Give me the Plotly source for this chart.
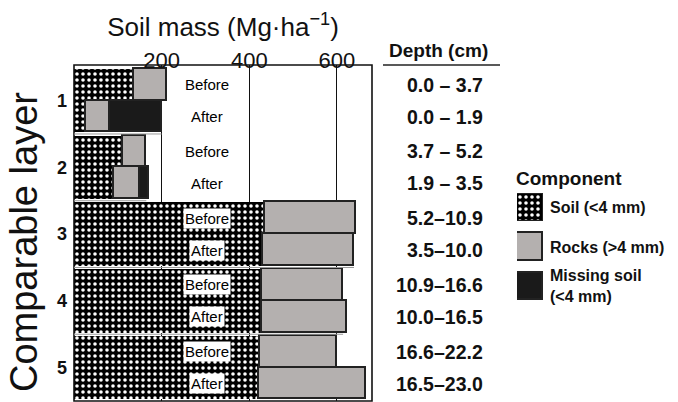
import plotly.graph_objects as go

# ---------------- data ----------------
layers = ["1", "2", "3", "4", "5"]
periods = ["Before", "After"]
# soil mass components (Mg/ha) per layer: [Before, After]
soil = [[138, 28], [111, 92], [435, 431], [429, 428], [424, 422]]
rocks = [[74, 55], [54, 58], [209, 208], [185, 195], [176, 244]]
missing = [[0, 117], [0, 21], [0, 0], [0, 0], [0, 0]]
depths = [["0.0 – 3.7", "0.0 – 1.9"],
          ["3.7 – 5.2", "1.9 – 3.5"],
          ["5.2–10.9", "3.5–10.0"],
          ["10.9–16.6", "10.0–16.5"],
          ["16.6–22.2", "16.5–23.0"]]
x_ticks = [200, 400, 600]
legend_labels = ["Soil (&lt;4 mm)", "Rocks (&gt;4 mm)", "Missing soil<br>(&lt;4 mm)"]

# ---------------- styling ----------------
W, H = 678, 402
TOP, BOT = 65, 401
FONT = "Liberation Sans, Arial, Helvetica, sans-serif"
ROCK = "#b4b0af"
EDGE = "#222222"
MISS = "#1a1a1a"
PITCH = 2.1  # layer pitch in y units (2 bars + gap)

def px(x):
    return x / W

def py(y):
    return (BOT - y) / (BOT - TOP)

soil_pattern = dict(shape=".", bgcolor="black", fgcolor="white", size=6,
                    solidity=0.28, fillmode="replace")

ys, sv, rv, mv, names = [], [], [], [], []
for i, L in enumerate(layers):
    for j, p in enumerate(periods):
        ys.append(PITCH * i + j)
        sv.append(soil[i][j])
        rv.append(rocks[i][j])
        mv.append(missing[i][j])
        names.append(f"Layer {L} {p}")

fig = go.Figure()
fig.add_trace(go.Bar(y=ys, x=sv, orientation="h", width=1, name="Soil",
                     marker=dict(color="black", pattern=soil_pattern, line=dict(width=0)),
                     hovertext=names, showlegend=False))
fig.add_trace(go.Bar(y=ys, x=rv, orientation="h", width=1, name="Rocks",
                     marker=dict(color=ROCK, line=dict(color=EDGE, width=1.6)),
                     hovertext=names, showlegend=False))
fig.add_trace(go.Bar(y=ys, x=mv, orientation="h", width=1, name="Missing soil",
                     marker=dict(color=MISS, line=dict(color=EDGE, width=1.6)),
                     hovertext=names, showlegend=False))

# legend swatches on a small separate axis
sw_colors = ["black", ROCK, MISS]
for k, lab in enumerate(legend_labels):
    mk = dict(color=sw_colors[k], line=dict(color=EDGE, width=1.6))
    if k == 0:
        mk = dict(color="black", pattern=soil_pattern, line=dict(color=EDGE, width=1))
    fig.add_trace(go.Bar(y=[k], x=[1], orientation="h", width=0.69, marker=mk,
                         xaxis="x2", yaxis="y2", showlegend=False, hoverinfo="skip"))

annotations = []
# Before / After labels and depth table
for i in range(len(layers)):
    for j, p in enumerate(periods):
        annotations.append(dict(x=303, y=PITCH * i + j, xref="x", yref="y", text=p,
                                showarrow=False, bgcolor="white", borderpad=1,
                                font=dict(size=15, color="black", family=FONT)))
        annotations.append(dict(x=px(485), y=PITCH * i + j, xref="paper", yref="y",
                                text=f"<b>{depths[i][j]}</b>", xanchor="right",
                                yanchor="middle", showarrow=False,
                                font=dict(size=19.5, color="#111", family=FONT)))

annotations.append(dict(x=px(438), y=py(51), xref="paper", yref="paper",
                        text="<b>Depth (cm)</b>", showarrow=False,
                        xanchor="center", yanchor="middle",
                        font=dict(size=19, color="#111", family=FONT)))
annotations.append(dict(x=px(514), y=py(178), xref="paper", yref="paper",
                        text="<b>Component</b>", showarrow=False,
                        xanchor="left", yanchor="middle",
                        font=dict(size=19, color="#111", family=FONT)))
for k, lab in enumerate(legend_labels):
    annotations.append(dict(x=px(548), y=k, xref="paper", yref="y2",
                            text=f"<b>{lab}</b>", showarrow=False, xanchor="left",
                            yanchor="middle", align="left",
                            font=dict(size=16, color="#111", family=FONT)))
# y axis title
annotations.append(dict(x=px(24), y=py(242), xref="paper", yref="paper",
                        text="Comparable layer", textangle=-90, showarrow=False,
                        xanchor="center", yanchor="middle",
                        font=dict(size=38, color="#111", family=FONT)))

shapes = [dict(type="line", xref="paper", yref="paper", x0=px(383), x1=px(500),
               y0=py(65), y1=py(65), line=dict(color="#222", width=1.5)),
          # plot frame
          dict(type="rect", xref="x domain", yref="y domain", x0=0, x1=1, y0=0, y1=1,
               line=dict(color="#111", width=1.6), layer="above")]
# separators between layers
for i in range(1, len(layers)):
    ext = min(sv[2 * (i - 1)] + rv[2 * (i - 1)] + mv[2 * (i - 1)],
              sv[2 * (i - 1) + 1] + rv[2 * (i - 1) + 1] + mv[2 * (i - 1) + 1])
    yy = PITCH * i - 0.55
    shapes.append(dict(type="line", xref="x", yref="y", x0=0, x1=ext, y0=yy, y1=yy,
                       line=dict(color="#999", width=1)))

fig.update_layout(
    width=W, height=H,
    margin=dict(l=0, r=0, t=TOP, b=H - BOT, autoexpand=False),
    barmode="stack",
    plot_bgcolor="white", paper_bgcolor="white",
    font=dict(family=FONT, color="#111"),
    annotations=annotations,
    shapes=shapes,
    xaxis=dict(domain=[px(74), px(372)], range=[0, 680], side="top",
               anchor="free", position=1 - 7 / (BOT - TOP),
               automargin=False,
               tickvals=x_ticks, ticktext=[str(t) for t in x_ticks],
               tickfont=dict(size=22, color="#111"),
               ticks="",
               showgrid=True, gridcolor="#111", gridwidth=1.3,
               showline=False, zeroline=False,
               title=dict(text="Soil mass (Mg·ha<sup>−1</sup>)",
                          font=dict(size=26, color="#111"), standoff=2)),
    yaxis=dict(range=[PITCH * 4 + 1.55, -0.62], automargin=False,
               tickvals=[PITCH * i + 0.5 for i in range(len(layers))],
               ticktext=[f"<b>{L}</b>" for L in layers],
               tickfont=dict(size=18, color="#111"),
               ticks="", ticklabelstandoff=6,
               showgrid=False, zeroline=False, showline=False),
    xaxis2=dict(domain=[px(517), px(543)], range=[0, 1], visible=False,
                anchor="y2", fixedrange=True, automargin=False),
    yaxis2=dict(domain=[py(306), py(188)], range=[2.5, -0.5], visible=False,
                anchor="x2", fixedrange=True, automargin=False),
    bargap=0,
)

fig.write_html("out.html", config={"displayModeBar": False},
               post_script="document.body.style.margin='0';document.body.style.overflow='hidden';")
